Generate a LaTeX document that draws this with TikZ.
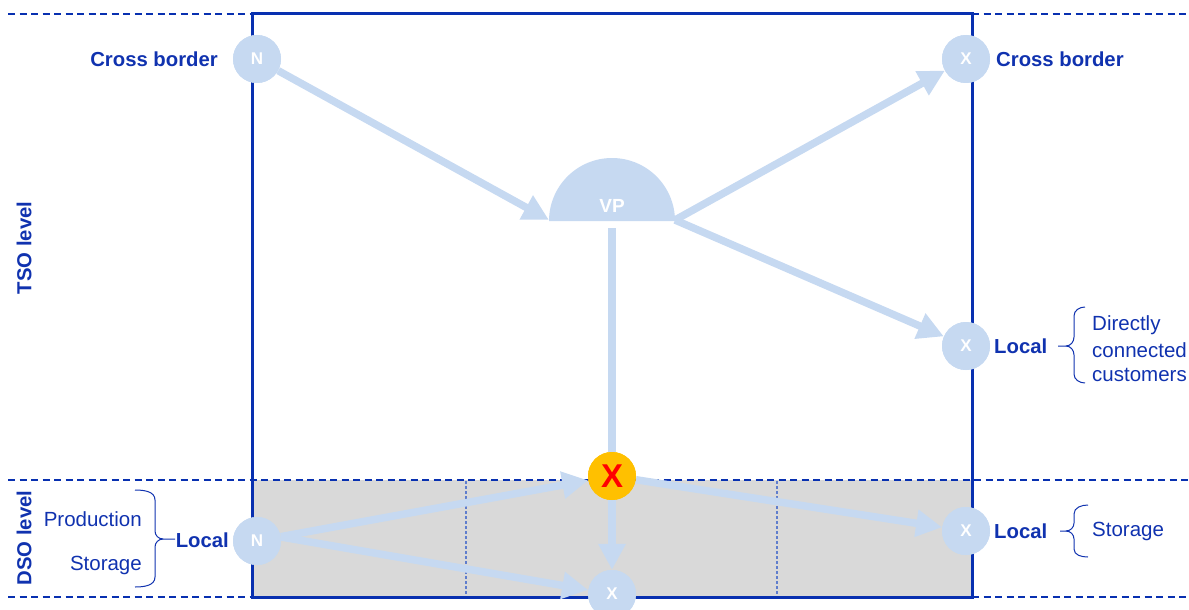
\documentclass[tikz,border=0pt]{standalone}
\usepackage{fontspec}
\setmainfont{Liberation Sans}
\usetikzlibrary{arrows.meta}
\definecolor{tblue}{RGB}{16,50,175}
\definecolor{fblue}{RGB}{8,48,176}
\definecolor{dblue}{RGB}{95,125,205}
\definecolor{lb}{RGB}{198,217,241}
\definecolor{gr}{RGB}{217,217,217}
\definecolor{orng}{RGB}{255,192,0}
\tikzset{
  lbl/.style={font=\fontsize{20.3}{24}\selectfont\bfseries, text=tblue, inner sep=0pt},
  txt/.style={font=\fontsize{20.5}{24}\selectfont, text=tblue, inner sep=0pt},
  circ/.style={circle, fill=lb, minimum size=48pt, inner sep=0pt, text=white, font=\fontsize{17}{20}\selectfont\bfseries},
  ocirc/.style={circle, fill=orng, minimum size=48pt, inner sep=0pt, text=red, font=\fontsize{33}{36}\selectfont\bfseries},
  flow/.style={draw=lb, line width=7.5pt, -{Triangle[length=26pt,width=26pt]}},
  flowplain/.style={draw=lb, line width=7.5pt},
  dashline/.style={draw=fblue, line width=1.6pt, dash pattern=on 7pt off 4.5pt},
  dotline/.style={draw=dblue, line width=1.6pt, dash pattern=on 3pt off 2pt},
  frame/.style={draw=fblue, line width=3pt},
  bline/.style={draw=tblue, line width=1pt},
}
\begin{document}
\begin{tikzpicture}[x=1pt,y=-1pt]
\useasboundingbox (0,0) rectangle (1189,610);
% DSO band
\fill[gr] (252,480) rectangle (972,597);
\draw[dotline] (466,481) -- (466,597);
\draw[dotline] (777,481) -- (777,597);
% dashed level lines
\draw[dashline] (8,14) -- (252,14);
\draw[dashline] (972,14) -- (1189,14);
\draw[dashline] (8,480) -- (1189,480);
\draw[dashline] (8,597) -- (252,597);
\draw[dashline] (972,597) -- (1189,597);
% frame
\draw[frame] (252,14) rectangle (972,597);
% VP half disk
\fill[lb] (549,221) arc[start angle=180, end angle=360, radius=63];
\node[font=\fontsize{19}{22}\selectfont\bfseries, text=white] (vp) at (612,206) {VP};
\coordinate (vpL) at (549,220);
\coordinate (vpR) at (675,220);
\coordinate (vpB) at (612,228);
% nodes (placed for naming)
\node[circ] (n1) at (257,59) {N};
\node[circ] (x1) at (966,59) {X};
\node[circ] (x2) at (966,346) {X};
\node[circ] (n2) at (257,541) {N};
\node[circ] (x3) at (966,531) {X};
\node[circ] (xb) at (612,594) {X};
\node[ocirc] (xo) at (612,476) {X};
% flows
\draw[flow] (n1) -- (vpL);
\draw[flow] (vpR) -- (x1);
\draw[flow] (vpR) -- (x2);
\draw[flowplain] (vpB) -- (xo.north);
\draw[flow] (xo) -- (xb);
\draw[flow] (n2) -- (xo);
\draw[flow] ([yshift=4pt]n2.east) -- (xb);
\draw[flow] (xo) -- (x3);
% redraw nodes on top of the flows
\node[circ] at (n1) {N};
\node[circ] at (x1) {X};
\node[circ] at (x2) {X};
\node[circ] at (n2) {N};
\node[circ] at (x3) {X};
\node[circ] at (xb) {X};
\node[ocirc] at (xo) {X};
% labels
\node[lbl, anchor=east] (cbl) at (218,59) {Cross border};
\node[lbl, anchor=west] (cbr) at (996,59) {Cross border};
\node[lbl, anchor=west] (loc2) at (994,346) {Local};
\node[lbl, anchor=west] (loc3) at (994,531) {Local};
\node[lbl, anchor=east] (locl) at (229,540) {Local};
\node[txt, anchor=west] (t1) at (1092,325) {Directly};
\node[txt, anchor=west] (t2) at (1092,350) {connected};
\node[txt, anchor=west] (t3) at (1092,375) {customers};
\node[txt, anchor=west] (t4) at (1092,531) {Storage};
\node[txt, anchor=east] (t5) at (142,519) {Production};
\node[txt, anchor=east] (t6) at (142,565) {Storage};
\node[lbl, rotate=90] (tso) at (24,248) {TSO level};
\node[lbl, rotate=90] (dso) at (24,538) {DSO level};
% braces
\draw[bline] (1085,307) to[out=180,in=90] (1074,316) -- (1074,337) to[out=-90,in=0] (1066,346) -- (1058,346);
\draw[bline] (1066,346) to[out=0,in=90] (1074,355) -- (1074,374) to[out=-90,in=180] (1085,383);
\draw[bline] (1088,505) to[out=180,in=90] (1074,514) -- (1074,523) to[out=-90,in=0] (1066,531) -- (1060,531);
\draw[bline] (1066,531) to[out=0,in=90] (1074,539) -- (1074,549) to[out=-90,in=180] (1088,557);
\draw[bline] (135,490) to[out=0,in=90] (155,500) -- (155,531) to[out=-90,in=180] (163,539) -- (175,539);
\draw[bline] (163,539) to[out=180,in=90] (155,547) -- (155,577) to[out=-90,in=0] (135,587);
\end{tikzpicture}
\end{document}
